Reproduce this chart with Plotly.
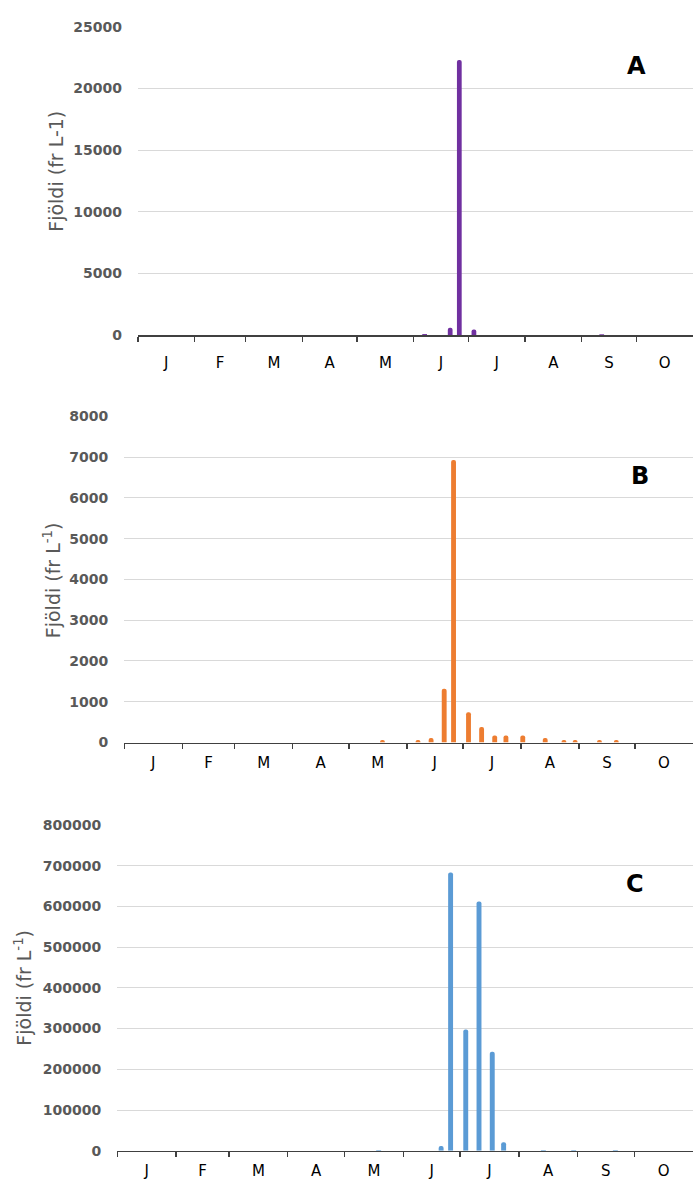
import plotly.graph_objects as go
import pandas as pd

# ---------------- data ----------------
month_letters = ["J", "F", "M", "A", "M", "J", "J", "A", "S", "O"]

dates_A = ["2015-06-07", "2015-06-21", "2015-06-26", "2015-07-04", "2015-09-12"]
values_A = [80, 590, 22300, 460, 60]

dates_B = ["2015-05-19", "2015-06-07", "2015-06-14", "2015-06-21", "2015-06-26",
           "2015-07-04", "2015-07-11", "2015-07-18", "2015-07-24", "2015-08-02",
           "2015-08-14", "2015-08-24", "2015-08-30", "2015-09-12", "2015-09-21"]
values_B = [60, 60, 110, 1320, 6930, 740, 380, 170, 170, 170, 110, 60, 60, 60, 60]

dates_C = ["2015-05-19", "2015-06-21", "2015-06-26", "2015-07-04", "2015-07-11",
           "2015-07-18", "2015-07-24", "2015-08-14", "2015-08-30", "2015-09-21"]
values_C = [2000, 12000, 683000, 298000, 612000, 243000, 21000, 2000, 2000, 2000]

# ---------------- layout helpers ----------------
W, H = 693, 1193
def px(x):
    return x / W
def py(y):
    return 1 - y / H

month_starts = pd.date_range("2015-01-01", "2015-11-01", freq="MS")
mids = [month_starts[i] + (month_starts[i + 1] - month_starts[i]) / 2 for i in range(10)]
starts = list(month_starts[:-1])

BAR_W = 2.6 * 86400000
AXIS_COL = "#404040"
GRID_COL = "#D9D9D9"
LABEL_COL = "#595959"

fig = go.Figure()
colors = ["#7030A0", "#ED7D31", "#5B9BD5"]
for i, (d, v) in enumerate([(dates_A, values_A), (dates_B, values_B), (dates_C, values_C)]):
    sfx = "" if i == 0 else str(i + 1)
    fig.add_trace(go.Bar(x=d, y=v, xaxis="x" + sfx, yaxis="y" + sfx,
                         width=BAR_W, marker=dict(color=colors[i], cornerradius=2, line=dict(width=0)),
                         showlegend=False, hoverinfo="skip"))

panels = [
    dict(x0=138, y0=331.5, y1=19, ymax=25000, dtick=5000, xstand=13),
    dict(x0=124.3, y0=744.5, y1=414, ymax=8000, dtick=1000, xstand=6),
    dict(x0=117.3, y0=1158.3, y1=828, ymax=800000, dtick=100000, xstand=6),
]

layout = {}
for i, p in enumerate(panels):
    sfx = "" if i == 0 else str(i + 1)
    layout["xaxis" + sfx] = dict(
        type="date", domain=[px(p["x0"]), 1.0], anchor="y" + sfx,
        range=["2015-01-01", "2015-11-01"],
        tickmode="array", tickvals=mids, ticktext=month_letters, ticks="",
        showline=True, linecolor=AXIS_COL, linewidth=1.5,
        showgrid=False, zeroline=False,
        tickfont=dict(family="DejaVu Sans", size=15, color="#000000"),
        ticklabelstandoff=p["xstand"],
        minor=dict(tickmode="array", tickvals=starts, ticks="outside", ticklen=5,
                   tickcolor=AXIS_COL, tickwidth=1.5, showgrid=False),
    )
    layout["yaxis" + sfx] = dict(
        domain=[py(p["y0"]), py(p["y1"])], anchor="x" + sfx,
        range=[0, p["ymax"]], dtick=p["dtick"], tick0=0, tickformat="d",
        showgrid=True, gridcolor=GRID_COL, gridwidth=1,
        zeroline=False, showline=False, ticks="",
        tickfont=dict(family="DejaVu Sans", size=14, color=LABEL_COL, weight="bold"),
        ticklabelstandoff=15,
    )

annotations = []
titles = [
    ("Fjöldi (fr L-1)", 56, 166),
    ("Fjöldi (fr L<sup>-1</sup>)", 52, 580),
    ("Fjöldi (fr L<sup>-1</sup>)", 23, 993),
]
for t, x, y in titles:
    annotations.append(dict(text=t, x=px(x), y=py(y), xref="paper", yref="paper",
                            textangle=-90, showarrow=False, xanchor="center", yanchor="middle",
                            font=dict(family="DejaVu Sans", size=19, color=LABEL_COL)))
for t, x, y in [("A", 636, 59), ("B", 640, 474), ("C", 635, 888)]:
    annotations.append(dict(text=t, x=px(x), y=py(y), xref="paper", yref="paper",
                            showarrow=False, xanchor="center", yanchor="middle",
                            font=dict(family="DejaVu Sans", size=24, color="#000000", weight="bold")))

fig.update_layout(
    width=W, height=H, margin=dict(l=0, r=0, t=0, b=0),
    paper_bgcolor="white", plot_bgcolor="white",
    annotations=annotations, **layout,
)

fig.write_html("out.html", config={"displayModeBar": False, "staticPlot": True},
               post_script="document.body.style.margin='0';document.body.style.overflow='hidden';")
